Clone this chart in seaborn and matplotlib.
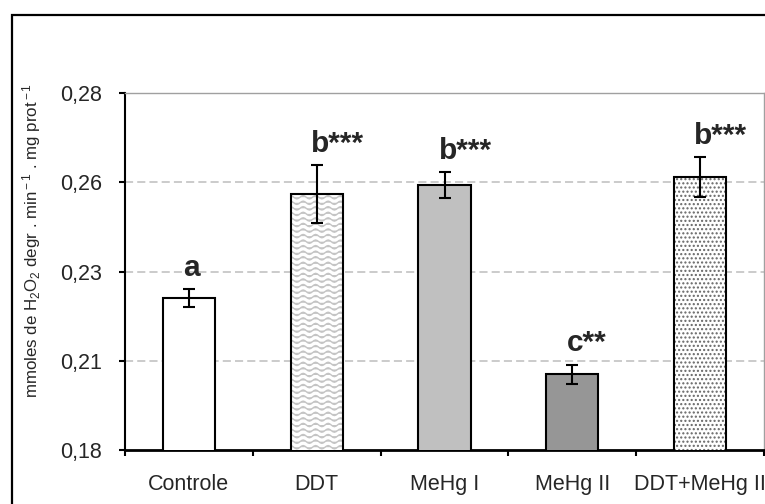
import warnings
import numpy as np
import pandas as pd
import matplotlib
matplotlib.use("Agg")
import matplotlib.pyplot as plt
import matplotlib.hatch as mhatch
from matplotlib.path import Path
from matplotlib.patches import Rectangle
import seaborn as sns

warnings.filterwarnings("ignore")

# ---- data ----
groups = ["Controle", "DDT", "MeHg I", "MeHg II", "DDT+MeHg II"]
means = [0.2225, 0.2516, 0.2543, 0.2012, 0.2565]
errors = [0.0025, 0.0081, 0.0036, 0.0027, 0.0056]
letters = ["a", "b***", "b***", "c**", "b***"]
ytick_values = [0.18, 0.205, 0.23, 0.255, 0.28]
ytick_labels = ["0,18", "0,21", "0,23", "0,26", "0,28"]

bar_colors = ["#ffffff", "#ffffff", "#c0c0c0", "#969696", "#ffffff"]
hatches = [None, "~~~", None, None, "...."]
hatch_colors = [None, "#c4c4c4", None, None, "#666666"]


# custom wavy hatch ("~")
class WaveHatch(mhatch.HatchPatternBase):
    def __init__(self, hatch, density):
        self.num_rows = int(hatch.count("~") * density)
        self.n_pts = 65
        self.num_vertices = self.num_rows * self.n_pts

    def set_vertices_and_codes(self, vertices, codes):
        rows, step = np.linspace(0.0, 1.0, self.num_rows, False, retstep=True)
        rows += step / 2.0
        xs = np.linspace(0.0, 1.0, self.n_pts)
        wave = 0.3 * step * np.sin(2 * np.pi * 8 * xs)
        for k, r in enumerate(rows):
            sl = slice(k * self.n_pts, (k + 1) * self.n_pts)
            vertices[sl, 0] = xs
            vertices[sl, 1] = r + wave
            codes[sl] = Path.LINETO
            codes[k * self.n_pts] = Path.MOVETO


mhatch._hatch_types.append(WaveHatch)

sns.set_style("white")
plt.rcParams["font.family"] = ["Liberation Sans", "DejaVu Sans"]
plt.rcParams["mathtext.fontset"] = "custom"
plt.rcParams["mathtext.rm"] = "Liberation Sans"
plt.rcParams["mathtext.it"] = "Liberation Sans"
plt.rcParams["hatch.linewidth"] = 1.0

fig = plt.figure(figsize=(7.65, 5.04), dpi=100)
W, H = 765, 504
ax = fig.add_axes([125 / W, 1 - 450 / H, (764 - 125) / W, (450 - 93) / H])

df = pd.DataFrame({"grupo": groups, "valor": means})
sns.barplot(data=df, x="grupo", y="valor", hue="grupo", palette=bar_colors,
            edgecolor="black", linewidth=1.5, width=0.41, legend=False,
            errorbar=None, ax=ax, zorder=3)

# hatch overlays
for patch, h, hc in zip(ax.patches, hatches, hatch_colors):
    if h:
        ov = Rectangle(patch.get_xy(), patch.get_width(), patch.get_height(),
                       fill=False, edgecolor=hc, linewidth=0, hatch=h, zorder=3.5)
        ax.add_patch(ov)
        patch.set_zorder(4)
        patch.set_facecolor("none")
        bg = Rectangle(patch.get_xy(), patch.get_width(), patch.get_height(),
                       facecolor="white", edgecolor="none", zorder=3.2)
        ax.add_patch(bg)

x = np.arange(len(groups))
ax.errorbar(x, means, yerr=errors, fmt="none", ecolor="black",
            elinewidth=1.5, capsize=4.3, capthick=1.5, zorder=5)

for i, (m, e, t) in enumerate(zip(means, errors, letters)):
    ax.annotate(t, xy=(i, m + e), xytext=(-4.2, 9.5), textcoords="offset points",
                ha="left", va="baseline", fontsize=21.5, fontweight="bold",
                zorder=6, annotation_clip=False)

ax.set_xlim(-0.5, 4.5)
ax.set_ylim(0.18, 0.28)
ax.set_yticks(ytick_values)
ax.set_yticklabels(ytick_labels)
ax.set_xticks(x)
ax.set_xticklabels(groups)
ax.set_xticks(np.arange(-0.5, 5.0, 1.0), minor=True)
ax.tick_params(axis="x", which="major", length=0, pad=17, labelsize=15.5)
ax.tick_params(axis="x", which="minor", length=4.5, width=1.5, direction="out",
               color="black", bottom=True)
ax.tick_params(axis="y", length=4.5, width=1.5, direction="out", pad=12,
               labelsize=15.5, color="black", left=True)
ax.set_xlabel("")
ax.set_ylabel("")

ax.set_axisbelow(True)
for yv in ytick_values[1:-1]:
    ax.axhline(yv, color="#bdbdbd", linewidth=1.1,
               linestyle=(0, (5.3, 2.7)), zorder=1)

for side in ["left", "bottom"]:
    ax.spines[side].set_color("black")
ax.spines["left"].set_linewidth(1.5)
ax.spines["bottom"].set_linewidth(2.0)
for side in ["top", "right"]:
    ax.spines[side].set_visible(True)
    ax.spines[side].set_color("#a0a0a0")
    ax.spines[side].set_linewidth(1.0)

fig.text(32 / W, 1 - 241 / H,
         r"mmoles de H$_2$O$_2$ degr . min$^{\rm -1}$ . mg prot$^{\rm -1}$",
         rotation=90, ha="center", va="center", fontsize=12.2)

# outer chart frame
frame = Rectangle((12 / W, -0.2), 2.0, 1.2 - 15 / H, transform=fig.transFigure,
                  fill=False, edgecolor="black", linewidth=1.6, zorder=0)
fig.patches.append(frame)

fig.savefig("out.png", dpi=100)
